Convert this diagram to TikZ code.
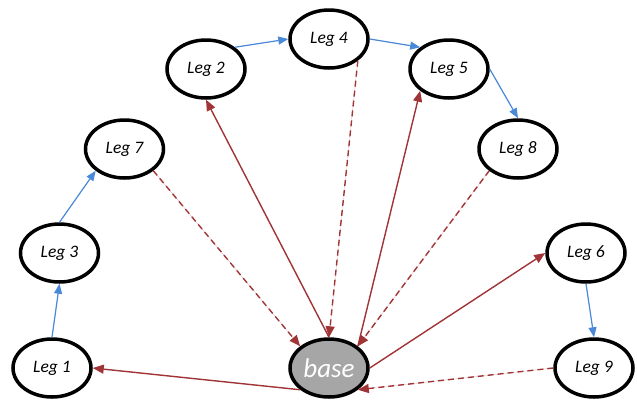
\documentclass[tikz,border=0pt]{standalone}
\usepackage{fontspec}
\setmainfont{Carlito}
\usetikzlibrary{arrows.meta,shapes.geometric}
\definecolor{linkblue}{HTML}{4A88D8}
\definecolor{linkred}{HTML}{A03436}
\definecolor{basegray}{HTML}{A6A6A6}
\tikzset{
  leg/.style={ellipse, draw=black, line width=3.5pt, fill=white, minimum width=78pt, minimum height=58pt, inner sep=0pt, font=\fontsize{17.5}{19}\selectfont\itshape},
  basenode/.style={leg, fill=basegray, text=white, font=\fontsize{27}{30}\selectfont\itshape},
  bluearrow/.style={draw=linkblue, line width=1.2pt, -{Triangle[length=10pt,width=8pt]}, fill=linkblue},
  redarrow/.style={draw=linkred, line width=1.4pt, -{Triangle[length=11pt,width=9pt]}, fill=linkred},
  reddash/.style={redarrow, dash pattern=on 6pt off 4pt}
}
\begin{document}
\begin{tikzpicture}[x=1pt,y=-1pt]
\useasboundingbox (0,0) rectangle (637,405);
\node[leg] (l1) at (52,368) {Leg 1};
\node[leg] (l3) at (59.5,253) {Leg 3};
\node[leg] (l7) at (124.5,149) {Leg 7};
\node[leg] (l2) at (206,69) {Leg 2};
\node[leg] (l4) at (329,39) {Leg 4};
\node[leg] (l5) at (449,69) {Leg 5};
\node[leg] (l8) at (518,149) {Leg 8};
\node[leg] (l6) at (586,253) {Leg 6};
\node[leg] (l9) at (594,368) {Leg 9};
\node[basenode] (b) at (329,368) {base};
% blue chain
\draw[bluearrow] (l1.north) -- (l3.south);
\draw[bluearrow] (l3.north) -- (l7.south west);
\draw[bluearrow] (l2.north east) -- (l4.west);
\draw[bluearrow] (l4.east) -- (l5.north west);
\draw[bluearrow] (l5.east) -- (l8.north);
\draw[bluearrow] (l6.south) -- (l9.north);
% red solid
\draw[redarrow] (b.south west) -- (l1.east);
\draw[redarrow] (b.north) -- (l2.south);
\draw[redarrow] (b.north east) -- (l5.south west);
\draw[redarrow] (b.east) -- (l6.west);
% red dashed
\draw[reddash] (l7.south east) -- (b.north west);
\draw[reddash] (l4.south east) -- (b.north);
\draw[reddash] (l8.south west) -- (b.north east);
\draw[reddash] (l9.west) -- (b.south east);
\end{tikzpicture}
\end{document}
